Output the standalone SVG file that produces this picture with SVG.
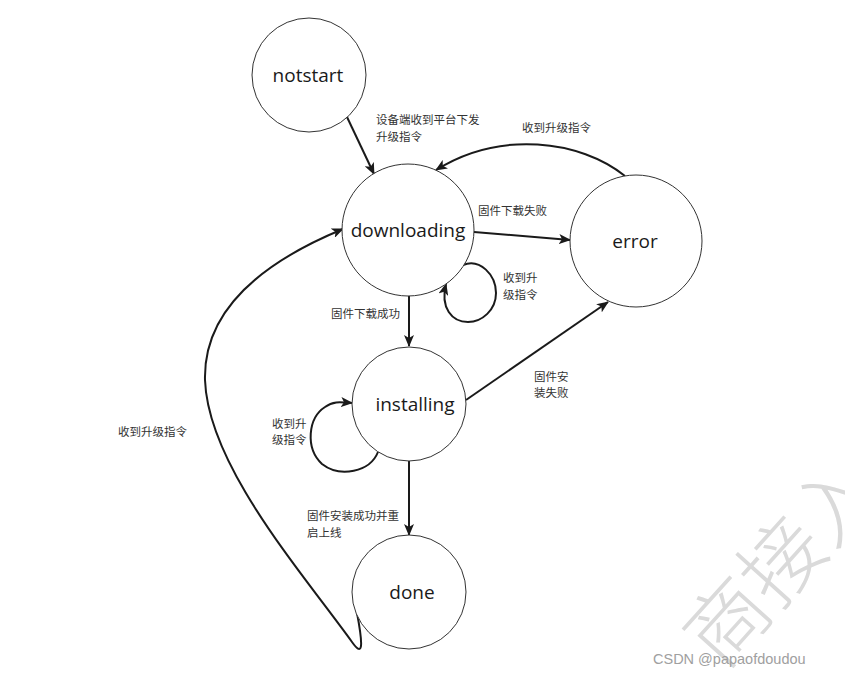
<svg xmlns="http://www.w3.org/2000/svg" width="845" height="678" viewBox="0 0 845 678">
<style>
.node{fill:#fff;stroke:#333;stroke-width:1}
.nl{font-family:"Open Sans","Noto Sans",sans-serif;font-size:19px;fill:#1a1a1a;text-anchor:middle}
.el{font-family:"Noto Sans CJK SC",sans-serif;font-size:11.5px;fill:#333}
.edge{fill:none;stroke:#1a1a1a;stroke-width:2}
.wm{font-family:"Noto Sans CJK SC",serif;font-size:82px;fill:#dadada;font-weight:300}
</style>
<defs>
<marker id="arr" markerWidth="12" markerHeight="10" refX="11" refY="5" orient="auto" markerUnits="userSpaceOnUse">
<path d="M0,0 L12,5 L0,10 L3,5 z" fill="#1a1a1a"/>
</marker>
</defs>
<rect width="845" height="678" fill="#fff"/>
<g id="watermark">
<text class="wm" transform="translate(722,672) rotate(-48)">商接入</text>
</g>
<g id="connectors">
<path class="edge" marker-end="url(#arr)" d="M347 117 L374 174"/>
<path class="edge" marker-end="url(#arr)" d="M625 176 C580 140 500 130 436 170"/>
<path class="edge" marker-end="url(#arr)" d="M474 232 L570 240"/>
<path class="edge" marker-end="url(#arr)" d="M463 265 C480 258 496 275 496 293 C496 310 482 322 468 322 C452 322 440 308 446 284"/>
<path class="edge" marker-end="url(#arr)" d="M409 296 L409 346"/>
<path class="edge" marker-end="url(#arr)" d="M466 400 L608 302"/>
<path class="edge" marker-end="url(#arr)" d="M378 452 C370 472 340 478 322 464 C305 448 308 418 325 407 C333 401 340 402 352 403"/>
<path class="edge" marker-end="url(#arr)" d="M409 461 L409 535"/>
<path class="edge" marker-end="url(#arr)" d="M357 613 C364 650 362 656 352 642 C300 570 208 465 205 380 C203 300 280 255 343 229"/>
</g>
<g id="labels">
<text class="el" x="376" y="124">设备端收到平台下发</text>
<text class="el" x="376" y="141">升级指令</text>
<text class="el" x="522" y="132">收到升级指令</text>
<text class="el" x="478" y="215">固件下载失败</text>
<text class="el" x="503" y="282">收到升</text>
<text class="el" x="503" y="299">级指令</text>
<text class="el" x="331" y="318">固件下载成功</text>
<text class="el" x="534" y="381">固件安</text>
<text class="el" x="534" y="397">装失败</text>
<text class="el" x="272" y="428">收到升</text>
<text class="el" x="272" y="444">级指令</text>
<text class="el" x="118" y="436">收到升级指令</text>
<text class="el" x="307" y="520">固件安装成功并重</text>
<text class="el" x="307" y="537">启上线</text>
</g>
<g id="notstart"><circle class="node" cx="309" cy="75" r="57"/><text class="nl" x="308" y="82">notstart</text></g>
<g id="downloading"><circle class="node" cx="408" cy="230" r="66"/><text class="nl" x="408" y="237">downloading</text></g>
<g id="error"><circle class="node" cx="636" cy="241" r="66"/><text class="nl" x="635" y="248">error</text></g>
<g id="installing"><circle class="node" cx="409" cy="404" r="57"/><text class="nl" x="415" y="411">installing</text></g>
<g id="done"><circle class="node" cx="409" cy="592" r="57"/><text class="nl" x="412" y="599">done</text></g>
<g id="csdn"><text x="653" y="664" font-family="Liberation Sans,Arial,sans-serif" font-size="14.5" fill="#a0a0a0">CSDN @papaofdoudou</text></g>
</svg>
